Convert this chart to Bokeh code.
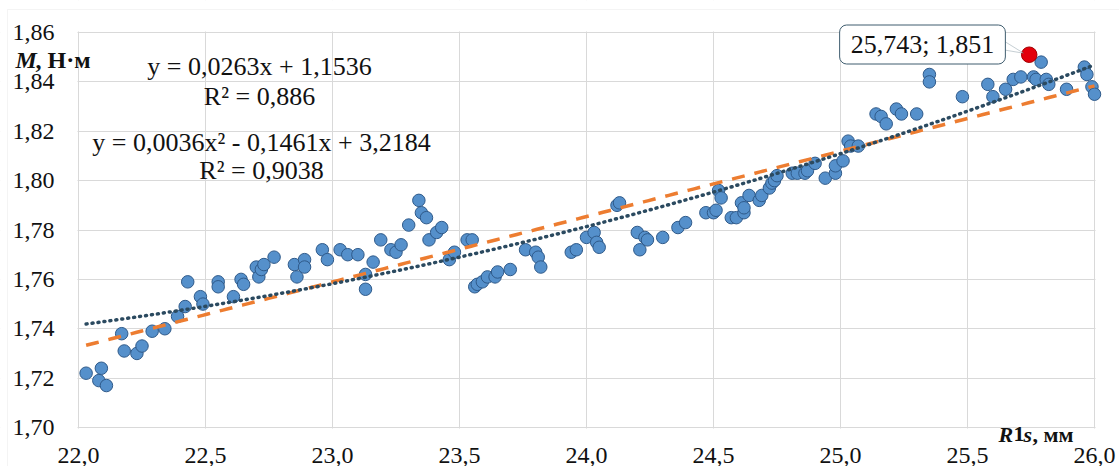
import numpy as np
from bokeh.plotting import figure
from bokeh.models import (Range1d, FixedTicker, CustomJSTickFormatter, Label,
                          PolyAnnotation, BoxAnnotation)
from bokeh.embed import file_html
from bokeh.resources import INLINE

# ---- data ----
R1S = [22.03, 22.08, 22.09, 22.11, 22.17, 22.18, 22.23, 22.25, 22.29, 22.34,
       22.39, 22.42, 22.43, 22.48, 22.49, 22.55, 22.55, 22.61, 22.64, 22.65,
       22.70, 22.71, 22.72, 22.73, 22.77, 22.85, 22.86, 22.89, 22.89, 22.96,
       22.98, 23.03, 23.06, 23.10, 23.13, 23.13, 23.16, 23.19, 23.23, 23.25,
       23.27, 23.30, 23.34, 23.35, 23.37, 23.38, 23.41, 23.43, 23.46, 23.48,
       23.53, 23.55, 23.56, 23.57, 23.59, 23.61, 23.64, 23.65, 23.70, 23.76,
       23.80, 23.81, 23.82, 23.94, 23.96, 24.00, 24.03, 24.04, 24.05, 24.12,
       24.13, 24.20, 24.21, 24.23, 24.24, 24.30, 24.36, 24.39, 24.47, 24.50,
       24.51, 24.52, 24.53, 24.57, 24.59, 24.61, 24.62, 24.62, 24.64, 24.68,
       24.69, 24.72, 24.73, 24.74, 24.75, 24.81, 24.83, 24.86, 24.87, 24.90,
       24.94, 24.98, 24.98, 25.01, 25.03, 25.04, 25.07, 25.14, 25.16, 25.18,
       25.22, 25.24, 25.30, 25.35, 25.35, 25.48, 25.58, 25.60, 25.65, 25.68,
       25.71, 25.76, 25.77, 25.79, 25.81, 25.82, 25.89, 25.96, 25.97, 25.99,
       26.00]
M_NM = [1.722, 1.719, 1.724, 1.717, 1.738, 1.731, 1.730, 1.733, 1.739, 1.740,
        1.745, 1.749, 1.759, 1.753, 1.750, 1.759, 1.757, 1.753, 1.760, 1.758,
        1.765, 1.761, 1.764, 1.766, 1.769, 1.766, 1.761, 1.768, 1.765, 1.772,
        1.768, 1.772, 1.770, 1.770, 1.762, 1.756, 1.767, 1.776, 1.772, 1.771,
        1.774, 1.782, 1.792, 1.787, 1.785, 1.776, 1.779, 1.781, 1.768, 1.771,
        1.776, 1.776, 1.757, 1.758, 1.759, 1.761, 1.761, 1.763, 1.764, 1.772,
        1.771, 1.769, 1.765, 1.771, 1.772, 1.777, 1.779, 1.775, 1.773, 1.790,
        1.791, 1.779, 1.772, 1.777, 1.776, 1.777, 1.781, 1.783, 1.787, 1.787,
        1.788, 1.796, 1.793, 1.785, 1.785, 1.791, 1.787, 1.789, 1.794, 1.792,
        1.794, 1.797, 1.799, 1.800, 1.802, 1.803, 1.803, 1.803, 1.804, 1.807,
        1.801, 1.803, 1.806, 1.808, 1.816, 1.814, 1.814, 1.827, 1.826, 1.823,
        1.829, 1.827, 1.827, 1.843, 1.840, 1.834, 1.839, 1.834, 1.837, 1.841,
        1.842, 1.842, 1.841, 1.848, 1.841, 1.839, 1.837, 1.846, 1.843, 1.838,
        1.835]
HIGHLIGHT_X = [25.743]
HIGHLIGHT_Y = [1.851]
HIGHLIGHT_TEXT = "25,743; 1,851"

X_TICKS = [22.0, 22.5, 23.0, 23.5, 24.0, 24.5, 25.0, 25.5, 26.0]
Y_TICKS = [1.70, 1.72, 1.74, 1.76, 1.78, 1.80, 1.82, 1.84, 1.86]

LIN_EQ = "y = 0,0263x + 1,1536"
LIN_R2 = "R² = 0,886"
POLY_EQ = "y = 0,0036x² - 0,1461x + 3,2184"
POLY_R2 = "R² = 0,9038"

Y_TITLE = [("M", "bold italic"), (", Н·м", "bold")]
X_TITLE = [("R", "bold italic"), ("1", "bold"), ("s", "bold italic"), (", мм", "bold")]

# ---- trend lines fitted to the series ----
all_x = np.array(R1S + HIGHLIGHT_X)
all_y = np.array(M_NM + HIGHLIGHT_Y)
lin = np.polyfit(all_x, all_y, 1)
quad = np.polyfit(all_x, all_y, 2)
tx = np.linspace(all_x.min(), all_x.max(), 200)

# ---- layout: plotting area placed inside the canvas, axes pinned to its edges ----
W, H = 1119, 466
PL, PR, PT, PB = 78, 1094, 32, 427          # plotting-area edges in pixels
x0, x1, y0, y1 = X_TICKS[0], X_TICKS[-1], Y_TICKS[0], Y_TICKS[-1]
sx = (PR - PL) / (x1 - x0)
sy = (PB - PT) / (y1 - y0)


def dx(px):
    return x0 + (px - PL) / sx


def dy(py):
    return y1 - (py - PT) / sy


SERIF = "Liberation Serif"
GRID = "#D9D9D9"
INK = "#111111"

p = figure(width=W, height=H, output_backend="svg", toolbar_location=None,
           x_range=Range1d(dx(0), dx(W)), y_range=Range1d(dy(H), dy(0)),
           min_border=0)
p.outline_line_color = None
p.background_fill_color = "white"
p.border_fill_color = "white"

for ax, ticks, code in ((p.xaxis[0], X_TICKS, "return tick.toFixed(1).replace('.', ',')"),
                        (p.yaxis[0], Y_TICKS, "return tick.toFixed(2).replace('.', ',')")):
    ax.ticker = FixedTicker(ticks=ticks)
    ax.formatter = CustomJSTickFormatter(code=code)
    ax.axis_line_color = None
    ax.major_tick_line_color = None
    ax.minor_tick_line_color = None
    ax.major_tick_out = 0
    ax.major_tick_in = 0
    ax.major_label_text_font = SERIF
    ax.major_label_text_font_size = "24px"
    ax.major_label_text_color = INK
p.xaxis[0].fixed_location = y0
p.yaxis[0].fixed_location = x0
p.xaxis[0].major_label_standoff = 20
p.yaxis[0].major_label_standoff = 24

p.xgrid.ticker = FixedTicker(ticks=X_TICKS)
p.ygrid.ticker = FixedTicker(ticks=Y_TICKS)
p.xgrid.grid_line_color = GRID
p.ygrid.grid_line_color = GRID

# keep the grid inside the plotting area
xs0, xs1, ys0, ys1 = dx(-5), dx(W + 5), dy(H + 5), dy(-5)
for l, r, b, t in ((xs0, dx(PL - 1), ys0, ys1), (dx(PR + 1), xs1, ys0, ys1),
                   (xs0, xs1, ys0, dy(PB + 1)), (xs0, xs1, dy(PT - 1), ys1)):
    p.add_layout(BoxAnnotation(left=l, right=r, bottom=b, top=t, fill_color="white",
                               fill_alpha=1, line_color=None, level="underlay"))

# outer chart border
p.add_layout(BoxAnnotation(left=dx(7), right=xs1, bottom=ys0, top=dy(9), fill_alpha=0,
                           fill_color=None, line_color=GRID, line_width=1))

# scatter points
p.scatter(R1S, M_NM, size=12.5, fill_color="#5590CB", line_color="#2F5A8A", line_width=1)

# trend lines
p.line(tx, np.polyval(lin, tx), line_color="#ED7D31", line_width=3.5, line_dash="13 10")
p.line(tx, np.polyval(quad, tx), line_color="#2B4A60", line_width=3.5, line_dash="1 5",
       line_cap="round")

# highlighted point
p.scatter(HIGHLIGHT_X, HIGHLIGHT_Y, size=15.5, fill_color="#E3000B", line_color="#A00000",
          line_width=1)

# callout pointer + box
p.add_layout(PolyAnnotation(xs=[dx(1001), HIGHLIGHT_X[0] - 0.022, dx(1001)],
                            ys=[dy(39), HIGHLIGHT_Y[0] + 0.0006, dy(49)],
                            fill_color="white", fill_alpha=1, line_color="#3E5C6E",
                            line_width=1))
p.add_layout(Label(x=dx(922), y=dy(44), text=HIGHLIGHT_TEXT, text_align="center",
                   text_baseline="middle", text_font=SERIF, text_font_size="26px",
                   text_color=INK, background_fill_color="white",
                   border_line_color="#3E5C6E", border_line_width=1,
                   padding=dict(left=11, right=11, top=5, bottom=5), border_radius=7))

# trend equations
for txt, cx, cy in ((LIN_EQ, 259, 65.5), (LIN_R2, 259, 96), (POLY_EQ, 261, 142),
                    (POLY_R2, 261, 169.5)):
    p.add_layout(Label(x=dx(cx), y=dy(cy), text=txt, text_align="center",
                       text_baseline="middle", text_font=SERIF, text_font_size="26px",
                       text_color=INK))

# axis titles (mixed italic / upright pieces)
for (txt, style), px in zip(Y_TITLE, (15, 35)):
    p.add_layout(Label(x=dx(px), y=dy(59), text=txt, text_align="left",
                       text_baseline="middle", text_font=SERIF, text_font_size="24px",
                       text_font_style=style, text_color=INK))
for (txt, style), px in zip(X_TITLE, (998, 1013, 1023, 1032)):
    p.add_layout(Label(x=dx(px), y=dy(433.5), text=txt, text_align="left",
                       text_baseline="middle", text_font=SERIF, text_font_size="22px",
                       text_font_style=style, text_color=INK))

open("out.html", "w").write(file_html(p, INLINE))
